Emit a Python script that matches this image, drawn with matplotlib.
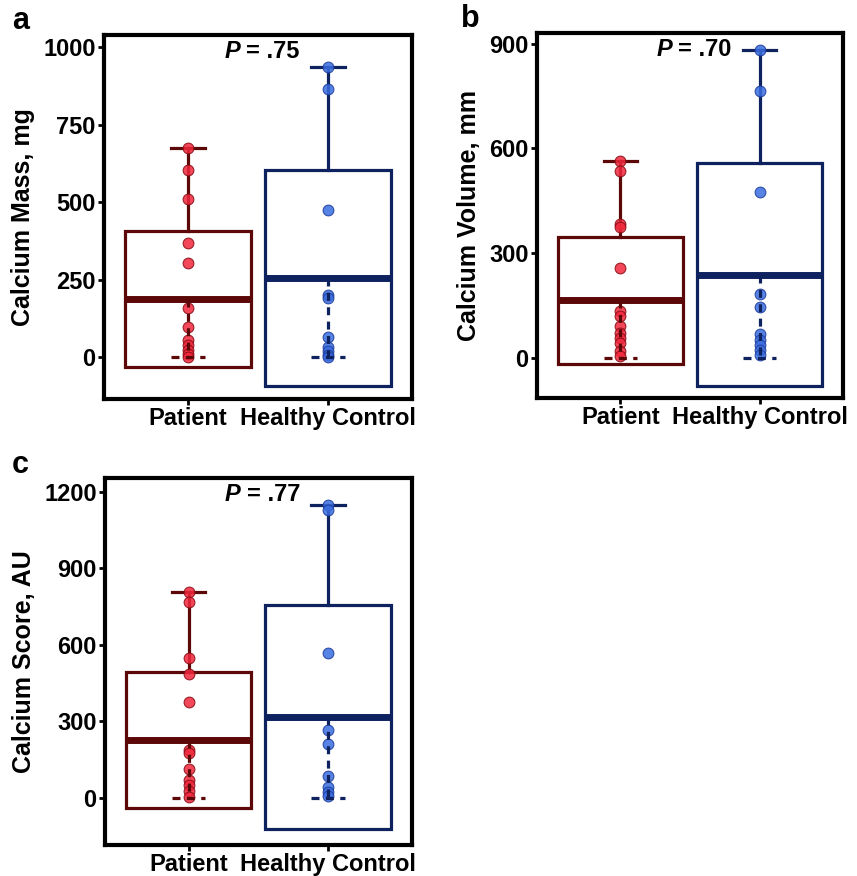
import matplotlib
matplotlib.use("Agg")
import matplotlib.pyplot as plt
from matplotlib.patches import Rectangle

plt.rcParams["font.family"] = ["Liberation Sans", "DejaVu Sans"]
plt.rcParams["font.weight"] = "bold"

groups = ["Patient", "Healthy Control"]

# calcium mass, mg
mass_patient = [674, 604, 509, 368, 305, 158, 97, 55, 40, 25, 12, 3]
mass_control = [937, 865, 474, 201, 190, 65, 35, 22, 8, 3]
mass_box_patient = [-30, 189, 407]      # lower, median, upper
mass_box_control = [-92, 255, 604]
mass_whisk_patient = [0, 674]
mass_whisk_control = [0, 937]

# calcium volume, mm
vol_patient = [564, 534, 383, 376, 257, 135, 120, 90, 71, 57, 42, 21, 6]
vol_control = [882, 766, 475, 183, 145, 69, 52, 37, 23, 9]
vol_box_patient = [-18, 166, 347]
vol_box_control = [-80, 238, 559]
vol_whisk_patient = [0, 564]
vol_whisk_control = [0, 882]

# calcium score, AU
score_patient = [808, 769, 546, 485, 374, 186, 176, 112, 69, 49, 27, 2]
score_control = [1146, 1129, 569, 265, 210, 86, 42, 23, 5]
score_box_patient = [-42, 226, 494]
score_box_control = [-125, 316, 756]
score_whisk_patient = [0, 808]
score_whisk_control = [0, 1146]

p_values = ["P = .75", "P = .70", "P = .77"]

BOX_COLORS = ["#5c0808", "#0f2260"]
PT_FACE = ["#f0283c", "#3a6de0"]
PT_EDGE = ["#8a0a14", "#1c3c9c"]
DASH = (0, (2.5, 2))


def draw_group(ax, x, pts, box, whisk, i):
    lo, med, hi = box
    w = 0.9
    cap = 0.12
    col = BOX_COLORS[i]
    ax.add_patch(Rectangle((x - w / 2, lo), w, hi - lo, fill=False,
                           edgecolor=col, lw=2.3, zorder=2))
    ax.plot([x - w / 2, x + w / 2], [med, med], color=col, lw=5, zorder=2,
            solid_capstyle="butt")
    # upper whisker solid, lower whisker dashed
    ax.plot([x, x], [hi, whisk[1]], color=col, lw=2.3, zorder=2)
    ax.plot([x - cap, x + cap], [whisk[1], whisk[1]], color=col, lw=2.3, zorder=2)
    ax.plot([x, x], [med, whisk[0]], color=col, lw=2.3, ls=DASH, zorder=4)
    ax.plot([x - cap, x + cap], [whisk[0], whisk[0]], color=col, lw=2.3,
            ls=DASH, zorder=4)
    ax.scatter([x] * len(pts), pts, s=60, c=PT_FACE[i], edgecolors=PT_EDGE[i],
               linewidths=0.8, alpha=0.85, zorder=3)


def panel(rect, ylabel, data, boxes, whisks, ylim, yticks, ptext, fig):
    ax = fig.add_axes(rect)
    for i in range(2):
        draw_group(ax, i + 1, data[i], boxes[i], whisks[i], i)
    ax.set_xlim(0.4, 2.6)
    ax.set_ylim(*ylim)
    ax.set_xticks([1, 2])
    ax.set_xticklabels(groups, fontsize=17, fontweight="bold")
    ax.set_yticks(yticks)
    ax.set_yticklabels([str(t) for t in yticks], fontsize=17, fontweight="bold")
    ax.set_ylabel(ylabel, fontsize=18, fontweight="bold", labelpad=6)
    ax.tick_params(width=2, length=4, pad=2)
    for s in ax.spines.values():
        s.set_linewidth(3)
    px = 0.462
    ax.text(px, 0.955, ptext.split(" ", 1)[1], transform=ax.transAxes,
            fontsize=17, fontweight="bold", ha="left", va="center")
    ax.text(px, 0.955, "P ", transform=ax.transAxes, fontsize=17,
            fontweight="bold", style="italic", ha="right", va="center")
    return ax


fig = plt.figure(figsize=(8.57, 8.76), dpi=100)

panel([0.1214, 0.5445, 0.3594, 0.4155], "Calcium Mass, mg",
      [mass_patient, mass_control], [mass_box_patient, mass_box_control],
      [mass_whisk_patient, mass_whisk_control], (-134, 1039),
      [0, 250, 500, 750, 1000], p_values[0], fig)
panel([0.6266, 0.5457, 0.357, 0.4167], "Calcium Volume, mm",
      [vol_patient, vol_control], [vol_box_patient, vol_box_control],
      [vol_whisk_patient, vol_whisk_control], (-115, 931),
      [0, 300, 600, 900], p_values[1], fig)
panel([0.1225, 0.0354, 0.358, 0.419], "Calcium Score, AU",
      [score_patient, score_control], [score_box_patient, score_box_control],
      [score_whisk_patient, score_whisk_control], (-186, 1254),
      [0, 300, 600, 900, 1200], p_values[2], fig)

for letter, lx, ly in [("a", 12, 6), ("b", 461, 4), ("c", 12, 450)]:
    fig.text(lx / 857, 1 - ly / 876, letter, fontsize=22, fontweight="bold",
             va="top", ha="left")

fig.savefig("out.png", dpi=100)
